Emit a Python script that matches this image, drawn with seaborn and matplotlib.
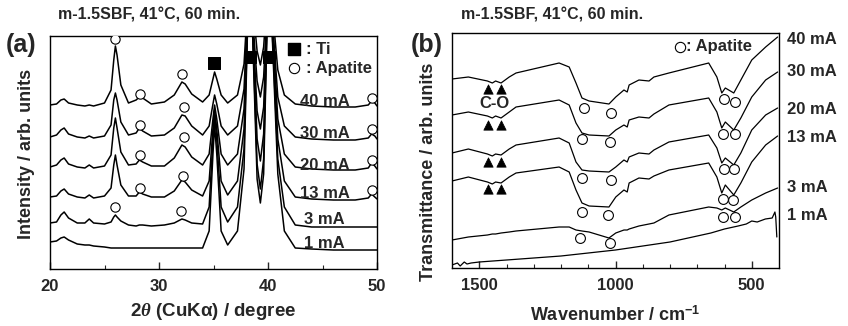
import matplotlib
matplotlib.use("Agg")
import matplotlib.pyplot as plt
import seaborn as sns

# ---------------------------------------------------------------------------
# (a) XRD patterns (intensity in arb. units)
# ---------------------------------------------------------------------------
two_theta = [20.0, 20.6, 21.0, 21.3, 21.7, 22.5, 23.2, 23.6, 24.0, 25.0, 25.6, 25.85,
             26.0, 26.15, 26.5, 27.2, 27.9, 28.2, 28.5, 29.3, 30.5, 31.4, 32.1, 32.4,
             33.0, 34.0, 34.6, 34.95, 35.1, 35.3, 35.7, 36.3, 37.2, 37.8, 38.1, 38.35,
             38.6, 39.0, 39.3, 39.6, 39.9, 40.15, 40.4, 40.9, 41.5, 42.5, 44.0, 46.0,
             48.0, 49.2, 49.5, 49.8, 50.0]

xrd_40 = [164, 165, 169, 170, 166, 164, 163, 164, 163, 166, 179, 209, 223, 214, 184, 166,
          169, 172, 171, 165, 167, 174, 187, 185, 175, 167, 174, 190, 197, 190, 174, 166,
          174, 205, 260, 330, 265, 218, 204, 222, 270, 330, 260, 199, 174, 165, 163, 162,
          162, 164, 168, 166, 163]
xrd_30 = [132, 134, 139, 141, 135, 132, 131, 133, 131, 133, 144, 169, 176, 169, 147, 134,
          136, 141, 138, 133, 134, 141, 154, 153, 143, 134, 143, 165, 174, 165, 143, 134,
          143, 180, 250, 330, 250, 188, 172, 192, 258, 330, 250, 172, 143, 132, 130, 129,
          129, 131, 135, 133, 130]
xrd_20 = [102, 104, 109, 111, 105, 102, 101, 104, 101, 103, 114, 141, 151, 141, 117, 104,
          105, 109, 107, 103, 103, 111, 124, 122, 112, 104, 115, 150, 164, 150, 115, 104,
          115, 160, 245, 330, 245, 158, 140, 162, 250, 330, 245, 150, 115, 102, 100, 99,
          99, 101, 106, 103, 100]
xrd_13 = [72, 73, 78, 80, 75, 72, 71, 74, 71, 73, 81, 104, 114, 104, 84, 73,
          73, 77, 75, 72, 72, 78, 89, 87, 79, 73, 88, 140, 159, 140, 88, 74,
          88, 140, 240, 330, 240, 130, 108, 135, 245, 330, 240, 130, 88, 72, 70, 69,
          69, 71, 75, 72, 70]
xrd_3 = [46, 47, 54, 57, 51, 46, 46, 50, 46, 45, 47, 52, 54, 52, 48, 44,
         43, 44, 44, 43, 44, 46, 50, 49, 46, 45, 62, 130, 154, 130, 62, 47,
         62, 120, 235, 330, 235, 105, 80, 110, 240, 330, 235, 110, 62, 44, 42, 42,
         42, 42, 42, 42, 42]
xrd_1 = [27, 28, 31, 32, 29, 25, 24, 24, 23, 22, 21, 21, 21, 21, 21, 21,
         21, 21, 21, 21, 21, 21, 21, 21, 21, 21, 38, 115, 144, 115, 38, 24,
         38, 100, 230, 330, 230, 90, 66, 95, 235, 330, 230, 95, 38, 21, 20, 19,
         19, 19, 19, 19, 19]

xrd_labels = ["40 mA", "30 mA", "20 mA", "13 mA", "3 mA", "1 mA"]
xrd_label_y = [167, 136, 104, 76, 49, 26]

# apatite (open circles) and Ti (filled squares) markers
xrd_apatite_x = [26.0, 28.26, 32.1, 49.5, 28.26, 32.3, 49.5, 28.26, 32.3, 49.5,
                 28.26, 32.2, 49.5, 25.96, 32.0]
xrd_apatite_y = [230, 175, 195, 171, 144, 162, 140, 114, 132, 109, 81, 93, 79, 62, 58]
ti_x = [35.05, 38.35, 40.1]
ti_y = [206, 212, 212]

# ---------------------------------------------------------------------------
# (b) FT-IR spectra (transmittance in arb. units)
# ---------------------------------------------------------------------------
wavenumber = [1600, 1540, 1470, 1452, 1440, 1420, 1390, 1365, 1207, 1170, 1145, 1123,
              1097, 1024, 999, 969, 957, 950, 914, 877, 859, 804, 658, 628, 610, 597,
              566, 540, 500, 449, 405]
ir_40 = [189, 191, 187, 185, 187, 185, 191, 195, 205, 201, 185, 170, 167, 164, 171, 178,
         176, 183, 188, 187, 191, 195, 205, 191, 175, 180, 175, 188, 208, 221, 231]
ir_30 = [153, 156, 152, 150, 152, 150, 156, 161, 168, 163, 145, 135, 133, 132, 138, 143,
         141, 148, 151, 150, 154, 163, 170, 156, 140, 146, 138, 150, 171, 188, 196]
ir_20 = [115, 119, 114, 112, 114, 113, 119, 123, 130, 125, 106, 98, 97, 96, 101, 108,
         106, 111, 115, 114, 118, 126, 133, 120, 105, 110, 103, 115, 138, 153, 160]
ir_13 = [87, 91, 86, 84, 86, 85, 91, 95, 101, 96, 78, 65, 62, 61, 71, 78,
         76, 85, 90, 89, 92, 98, 105, 91, 75, 83, 73, 85, 106, 123, 132]
ir_3 = [28, 31, 33, 34, 34, 35, 36, 37, 41, 41, 38, 37, 36, 30, 35, 38,
        38, 39, 42, 44, 45, 53, 61, 60, 58, 60, 56, 61, 68, 75, 80]
wavenumber_1 = [1600, 1580, 1570, 1555, 1545, 1530, 1500, 1400, 1300, 1200, 1100, 1000,
                900, 800, 700, 650, 600, 550, 520, 500, 480, 450, 425, 415, 412, 408]
ir_1 = [3, 5, 2, 6, 4, 5, 6, 8, 10, 12, 15, 18, 22, 26, 32, 35, 39, 42, 44, 47, 46, 49,
        50, 56, 51, 31]

ir_labels = ["40 mA", "30 mA", "20 mA", "13 mA", "3 mA", "1 mA"]
ir_label_y = [228, 196, 158, 130, 80, 52]

ir_apatite_x = [1115, 1018, 603, 561, 1122, 1021, 606, 563, 1122, 1018, 603, 565,
                1122, 1027, 606, 567, 1131, 1021, 604, 563]
ir_apatite_y = [160, 155, 169, 166, 129, 126, 134, 134, 90, 88, 99, 99,
                56, 53, 69, 68, 30, 25, 51, 51]
co_x = [1467, 1420, 1467, 1420, 1467, 1420, 1467, 1420]
co_y = [179, 179, 143, 143, 106, 106, 79, 79]

TITLE = "m-1.5SBF, 41°C, 60 min."

sns.set_theme(style="ticks")
plt.rcParams["font.family"] = ["Liberation Sans", "DejaVu Sans"]
plt.rcParams["font.weight"] = "bold"
plt.rcParams["mathtext.fontset"] = "custom"
plt.rcParams["mathtext.rm"] = "Liberation Sans:bold"
plt.rcParams["mathtext.bf"] = "Liberation Sans:bold"
plt.rcParams["mathtext.it"] = "Liberation Serif:italic"

fig = plt.figure(figsize=(8.48, 3.26), dpi=100)
ax_a = fig.add_axes([50 / 848, 1 - 269 / 326, 327 / 848, 233 / 326])
ax_b = fig.add_axes([452 / 848, 1 - 268 / 326, 327 / 848, 235 / 326])

# --- panel (a) -------------------------------------------------------------
for ys in [xrd_40, xrd_30, xrd_20, xrd_13, xrd_3, xrd_1]:
    sns.lineplot(x=two_theta, y=ys, ax=ax_a, color="black", lw=1.1,
                 sort=False, estimator=None)
sns.scatterplot(x=xrd_apatite_x, y=xrd_apatite_y, ax=ax_a, marker="o", s=45,
                facecolor="white", edgecolor="black", linewidth=0.8, zorder=5)
sns.scatterplot(x=ti_x, y=ti_y, ax=ax_a, marker="s", s=80, color="black",
                edgecolor="black", zorder=5)
for lab, yy in zip(xrd_labels, xrd_label_y):
    ax_a.text(45.2, yy, lab, ha="center", va="center", fontsize=12, fontweight="bold")
# legend drawn by hand like the original
ax_a.scatter([42.4], [220], marker="s", s=70, color="black", zorder=5)
ax_a.scatter([42.4], [201], marker="o", s=55, facecolor="white", edgecolor="black",
             linewidth=0.8, zorder=5)
ax_a.text(43.45, 220, ": Ti", va="center", fontsize=12, fontweight="bold")
ax_a.text(43.45, 201, ": Apatite", va="center", fontsize=12, fontweight="bold")

ax_a.set_xlim(20, 50)
ax_a.set_ylim(0, 233)
ax_a.set_xticks([20, 30, 40, 50])
ax_a.set_xticks([25, 35, 45], minor=True)
ax_a.set_yticks([])
ax_a.set_xlabel(r"2$\mathit{\theta}$ (CuK$\mathrm{\alpha}$) / degree", fontsize=13.5,
                fontweight="bold", labelpad=5)
ax_a.set_ylabel("")

# --- panel (b) -------------------------------------------------------------
for ys in [ir_40, ir_30, ir_20, ir_13, ir_3]:
    sns.lineplot(x=wavenumber, y=ys, ax=ax_b, color="black", lw=0.9,
                 sort=False, estimator=None)
sns.lineplot(x=wavenumber_1, y=ir_1, ax=ax_b, color="black", lw=0.9,
             sort=False, estimator=None)
sns.scatterplot(x=ir_apatite_x, y=ir_apatite_y, ax=ax_b, marker="o", s=50,
                facecolor="white", edgecolor="black", linewidth=0.8, zorder=5)
sns.scatterplot(x=co_x, y=co_y, ax=ax_b, marker="^", s=45, color="black",
                edgecolor="black", zorder=5)
ax_b.text(1445, 164, "C-O", ha="center", va="center", fontsize=12, fontweight="bold")
ax_b.scatter([764], [221], marker="o", s=55, facecolor="white", edgecolor="black",
             linewidth=0.8, zorder=5)
ax_b.text(740, 221, ": Apatite", va="center", fontsize=12, fontweight="bold")
for lab, yy in zip(ir_labels, ir_label_y):
    ax_b.text(1.025, yy, lab, transform=ax_b.get_yaxis_transform(), ha="left",
              va="center", fontsize=12, fontweight="bold")

ax_b.set_xlim(1600, 400)
ax_b.set_ylim(0, 235)
ax_b.set_xticks([1500, 1000, 500])
ax_b.set_xticks([1400, 1300, 1200, 1100, 900, 800, 700, 600], minor=True)
ax_b.set_yticks([])
ax_b.set_xlabel(r"Wavenumber / cm$^{\mathbf{-1}}$", fontsize=13, fontweight="bold",
                labelpad=9)
ax_b.set_ylabel("")

for ax in (ax_a, ax_b):
    for sp in ax.spines.values():
        sp.set_visible(True)
        sp.set_linewidth(1.0)
        sp.set_color("black")
    ax.tick_params(axis="x", which="major", direction="in", length=5, width=1,
                   labelsize=12, pad=7, top=False)
    ax.tick_params(axis="x", which="minor", direction="in", length=3, width=0.8, top=False)
    for t in ax.get_xticklabels():
        t.set_fontweight("bold")

# y labels placed like the original (not centred on the axes)
fig.text(27 / 848, 1 - 154 / 326, "Intensity / arb. units", rotation=90, ha="center",
         va="center", fontsize=13, fontweight="bold")
fig.text(428 / 848, 1 - 172 / 326, "Transmittance / arb. units", rotation=90,
         ha="center", va="center", fontsize=13, fontweight="bold")

fig.text(58 / 848, 1 - 15 / 326, TITLE, ha="left", va="center", fontsize=11.5,
         fontweight="bold")
fig.text(461 / 848, 1 - 15 / 326, TITLE, ha="left", va="center", fontsize=11.5,
         fontweight="bold")
fig.text(6 / 848, 1 - 45 / 326, "(a)", ha="left", va="center", fontsize=18,
         fontweight="bold")
fig.text(411 / 848, 1 - 45 / 326, "(b)", ha="left", va="center", fontsize=18,
         fontweight="bold")

fig.savefig("out.png", dpi=100, facecolor="white")
